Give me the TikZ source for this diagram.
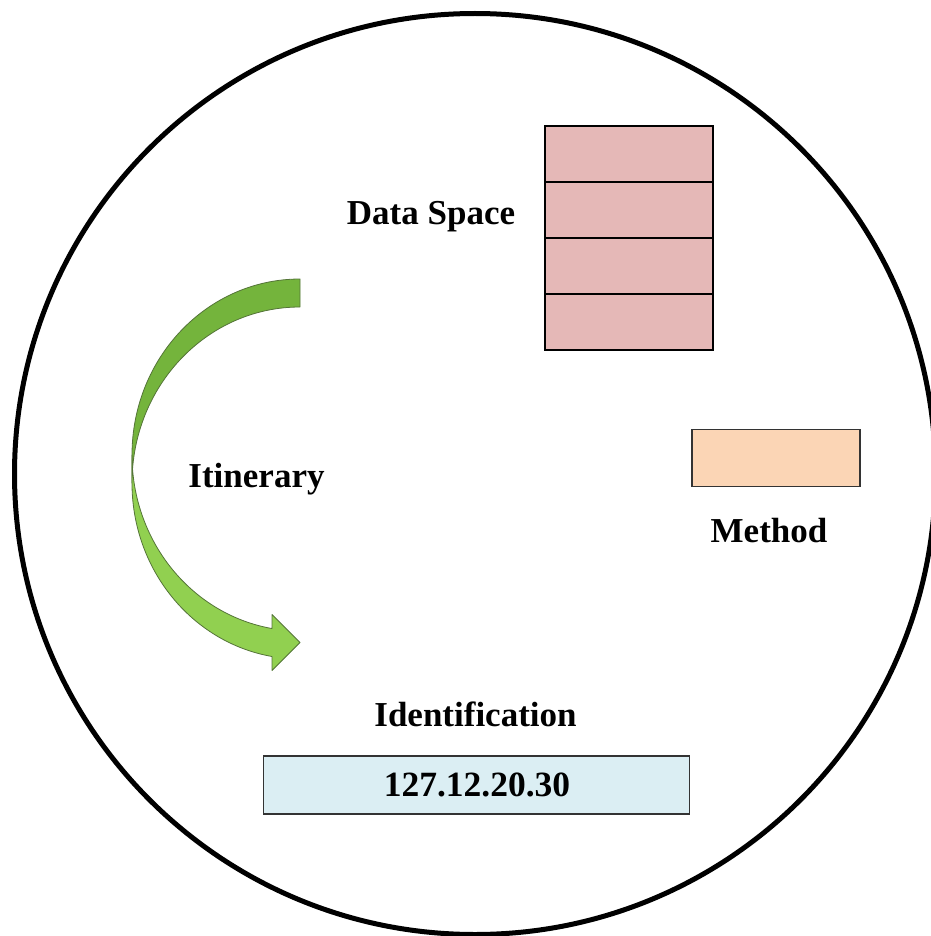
\documentclass[tikz,border=0pt]{standalone}
\usepackage{fontspec}
\setmainfont{Liberation Serif}
\definecolor{dspink}{RGB}{229,184,183}
\definecolor{mpeach}{RGB}{251,213,181}
\definecolor{idblue}{RGB}{219,238,243}
\definecolor{backgreen}{RGB}{116,180,60}
\definecolor{frontgreen}{RGB}{145,208,80}
\definecolor{arrowline}{RGB}{84,116,56}
\begin{document}
\begin{tikzpicture}[x=1pt,y=-1pt,
  lbl/.style={font=\fontsize{35}{42}\selectfont\bfseries, anchor=base, inner sep=0pt},
  numlbl/.style={font=\fontsize{35.5}{42}\selectfont\bfseries, anchor=base, inner sep=0pt},
  dsrow/.style={draw=black, line width=1.5pt, fill=dspink, minimum width=168pt, minimum height=56pt, inner sep=0pt},
  flatbox/.style={draw=black!80, line width=1.3pt, inner sep=0pt},
  arrowpart/.style={draw=arrowline, line width=0.8pt, line join=round},
]
\useasboundingbox (0,0) rectangle (930,936);
\draw[line width=5pt] (475,474) circle[radius=460.5];

% Data space stack
\node[dsrow] (d1) at (629,154) {};
\node[dsrow] (d2) at (629,210) {};
\node[dsrow] (d3) at (629,266) {};
\node[dsrow] (d4) at (629,322) {};

% Method box
\node[flatbox, fill=mpeach, minimum width=168pt, minimum height=57pt] (mbox) at (776,458) {};

% Identification box
\node[flatbox, fill=idblue, minimum width=426pt, minimum height=58pt] (idbox) at (476.3,785) {};

% Curved arrow: back part
\path[arrowpart, fill=backgreen]
  (300,279) arc[start angle=270, end angle=180, x radius=168, y radius=176]
  -- (132,483) arc[start angle=180, end angle=270, x radius=168, y radius=176] -- cycle;
% Curved arrow: front part
\path[arrowpart, fill=frontgreen]
  (132,455) arc[start angle=180, end angle=99.59, x radius=168, y radius=176]
  -- (272,614.5) -- (300,642.5) -- (272,670.5) -- (272,656.5)
  arc[start angle=99.59, end angle=180, x radius=168, y radius=176] -- cycle;

% Labels
\node[lbl] (ds) at (431,224.5) {Data Space};
\node[lbl] (it) at (256.5,487) {Itinerary};
\node[lbl] (me) at (769,542.7) {Method};
\node[lbl] (id) at (475.5,726.7) {Identification};
\node[numlbl] (ip) at (477,796) {127.12.20.30};
\end{tikzpicture}
\end{document}
